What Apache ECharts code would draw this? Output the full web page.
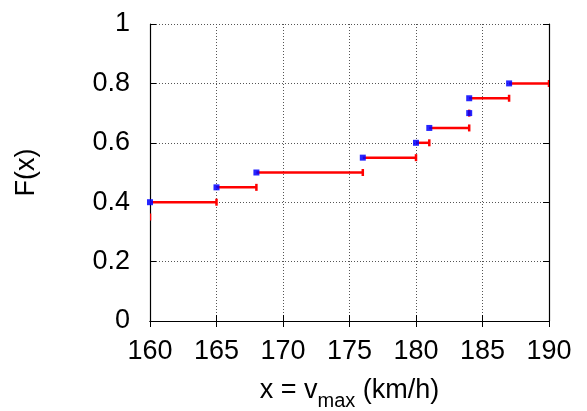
<!DOCTYPE html>
<html>
<head>
<meta charset="utf-8">
<script src="https://cdn.jsdelivr.net/npm/echarts@6/dist/echarts.min.js"></script>
<style>
  html, body { margin: 0; padding: 0; background: #fff; }
  #chart { width: 587px; height: 411px; }
</style>
</head>
<body>
<div id="chart"></div>
<script>
// empirical distribution steps: start x, end x, F value
const stepStart = [158, 160, 165, 168, 176, 180, 181, 184, 184, 187];
const stepEnd = [160, 165, 168, 176, 180, 181, 184, 184, 187, 190];
const stepF = [0.35, 0.40, 0.45, 0.50, 0.55, 0.60, 0.65, 0.70, 0.75, 0.80];
const xTicks = [160, 165, 170, 175, 180, 185, 190];
const yTicks = [0, 0.2, 0.4, 0.6, 0.8, 1];

const chart = echarts.init(document.getElementById("chart"));

const font = "Liberation Sans, Arial, sans-serif";
const segData = stepStart.map((s, i) => [s, stepEnd[i], stepF[i]]);
const pointData = stepStart.map((s, i) => [s, stepF[i]]);

function renderStep(params, api) {
  const p0 = api.coord([api.value(0), api.value(2)]);
  const p1 = api.coord([api.value(1), api.value(2)]);
  const st = { stroke: "#ff0000", lineWidth: 2.5 };
  return {
    type: "group",
    children: [
      { type: "line", shape: { x1: p0[0], y1: p0[1], x2: p1[0], y2: p1[1] }, style: st },
      { type: "line", shape: { x1: p1[0], y1: p1[1] - 3.5, x2: p1[0], y2: p1[1] + 3.5 }, style: st },
    ],
  };
}

const axisLine = { show: true, lineStyle: { color: "#000", width: 1.2 } };
const tick = { show: true, inside: true, length: 6, lineStyle: { color: "#000" } };
const grid = { show: true, lineStyle: { color: "#555", type: [1, 2], width: 1 } };

const option = {
  animation: false,
  grid: { left: 150, right: 38, top: 24, bottom: 90, outerBoundsMode: "none", containLabel: false },
  xAxis: [
    {
      type: "value", min: 160, max: 190, interval: 5, position: "bottom",
      axisLine, axisTick: tick, splitLine: grid,
      axisLabel: { fontSize: 27, fontFamily: font, color: "#000", margin: 17 },
      name: "{a|x = v}{s|max}{a| (km/h)}",
      nameLocation: "middle", nameGap: 56,
      nameTextStyle: {
        fontFamily: font, color: "#000",
        rich: {
          a: { fontSize: 27, fontFamily: font, color: "#000", lineHeight: 32, verticalAlign: "top" },
          s: { fontSize: 20, fontFamily: font, color: "#000", lineHeight: 32, verticalAlign: "top", padding: [14, 0, 0, 0] },
        },
      },
    },
    {
      type: "value", min: 160, max: 190, interval: 5, position: "top",
      axisLine, axisTick: tick, axisLabel: { show: false }, splitLine: { show: false },
    },
  ],
  yAxis: [
    {
      type: "value", min: 0, max: 1, interval: 0.2, position: "left",
      axisLine, axisTick: tick, splitLine: grid,
      axisLabel: { fontSize: 27, fontFamily: font, color: "#000", margin: 20, formatter: (v) => String(Math.round(v * 10) / 10) },
      name: "F(x)", nameLocation: "middle", nameGap: 110,
      nameTextStyle: { fontSize: 27, fontFamily: font, color: "#000" },
    },
    {
      type: "value", min: 0, max: 1, interval: 0.2, position: "right",
      axisLine, axisTick: tick, axisLabel: { show: false }, splitLine: { show: false },
    },
  ],
  series: [
    {
      name: "steps", type: "custom", clip: true,
      renderItem: renderStep, data: segData, z: 2,
    },
    {
      name: "points", type: "scatter", clip: true,
      symbol: "rect", symbolSize: 6, data: pointData, z: 3,
      itemStyle: { color: "#0000ff", opacity: 0.85 },
    },
  ],
};

chart.setOption(option);
</script>
</body>
</html>
